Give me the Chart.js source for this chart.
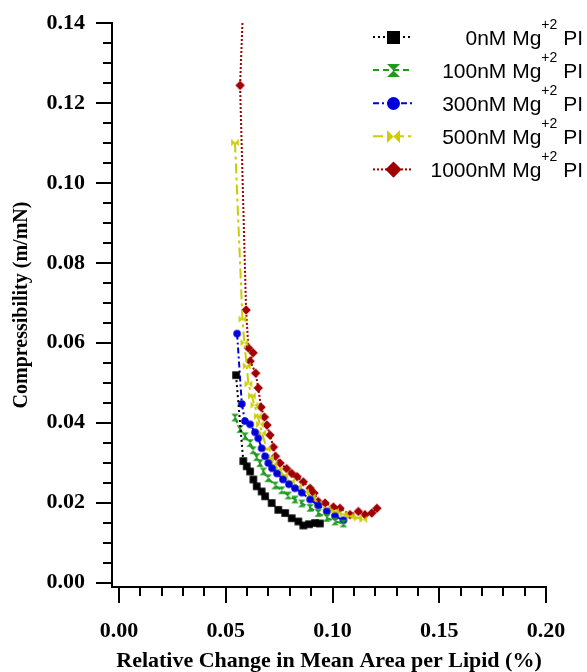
<!DOCTYPE html>
<html lang="en">
<head>
<meta charset="UTF-8">
<title>Compressibility vs Relative Change in Mean Area per Lipid</title>
<script src="https://cdn.jsdelivr.net/npm/chart.js@4.4.1/dist/chart.umd.min.js"></script>
<style>
  html, body { margin: 0; padding: 0; background: #ffffff; }
  #wrap { width: 587px; height: 672px; }
</style>
</head>
<body>
<div id="wrap"><canvas id="grafica" width="587" height="672"></canvas></div>
<script>
// ---- datos ----
const seriesNames = ['0nM', '100nM', '300nM', '500nM', '1000nM'];

const mg0X = [0.0548, 0.0582, 0.0598, 0.0614, 0.0629, 0.0645, 0.0668, 0.0684, 0.0715, 0.0746, 0.0778, 0.0809, 0.0840, 0.0863, 0.0890, 0.0918, 0.0941];
const mg0Y = [0.0519, 0.0304, 0.0291, 0.0278, 0.0258, 0.0241, 0.0228, 0.0216, 0.0199, 0.0182, 0.0174, 0.0161, 0.0153, 0.0143, 0.0146, 0.0149, 0.0148];

const mg100X = [0.0543, 0.0567, 0.0590, 0.0614, 0.0628, 0.0645, 0.0660, 0.0676, 0.0698, 0.0731, 0.0762, 0.0793, 0.0824, 0.0856, 0.0895, 0.0933, 0.0973, 0.1012, 0.1051];
const mg100Y = [0.0413, 0.0384, 0.0366, 0.0349, 0.0331, 0.0314, 0.0299, 0.0278, 0.0261, 0.0243, 0.0231, 0.0218, 0.0208, 0.0198, 0.0187, 0.0174, 0.0162, 0.0153, 0.0148];

const mg300X = [0.0553, 0.0575, 0.0590, 0.0614, 0.0637, 0.0652, 0.0668, 0.0684, 0.0699, 0.0717, 0.0740, 0.0768, 0.0796, 0.0824, 0.0856, 0.0895, 0.0933, 0.0973, 0.1012, 0.1051];
const mg300Y = [0.0623, 0.0447, 0.0404, 0.0396, 0.0376, 0.0361, 0.0336, 0.0316, 0.0299, 0.0286, 0.0273, 0.0258, 0.0246, 0.0236, 0.0225, 0.0208, 0.0193, 0.0178, 0.0166, 0.0156];

const mg500X = [0.0543, 0.0578, 0.0587, 0.0598, 0.0606, 0.0622, 0.0634, 0.0650, 0.0660, 0.0670, 0.0692, 0.0707, 0.0723, 0.0746, 0.0773, 0.0806, 0.0838, 0.0871, 0.0903, 0.0933, 0.0973, 0.1012, 0.1051, 0.1082, 0.1119, 0.1144];
const mg500Y = [0.1101, 0.0659, 0.0600, 0.0542, 0.0497, 0.0467, 0.0444, 0.0416, 0.0396, 0.0374, 0.0334, 0.0311, 0.0296, 0.0283, 0.0268, 0.0253, 0.0240, 0.0227, 0.0215, 0.0198, 0.0184, 0.0178, 0.0171, 0.0166, 0.0162, 0.0158];

const mg1000X = [0.0585, 0.0567, 0.0595, 0.0606, 0.0628, 0.0614, 0.0640, 0.0652, 0.0665, 0.0681, 0.0693, 0.0707, 0.0723, 0.0733, 0.0754, 0.0785, 0.0809, 0.0834, 0.0863, 0.0895, 0.0913, 0.0933, 0.0965, 0.1004, 0.1035, 0.1082, 0.1121, 0.1152, 0.1184, 0.1208];
const mg1000Y = [0.1500, 0.1244, 0.0682, 0.0587, 0.0575, 0.0554, 0.0524, 0.0487, 0.0439, 0.0414, 0.0394, 0.0369, 0.0339, 0.0316, 0.0299, 0.0285, 0.0273, 0.0265, 0.0252, 0.0236, 0.0224, 0.0203, 0.0199, 0.0189, 0.0186, 0.0170, 0.0178, 0.0170, 0.0174, 0.0186];

const xMajorTicks = [0.00, 0.05, 0.10, 0.15, 0.20];
const xMinorTicks = [0.00, 0.01, 0.02, 0.03, 0.04, 0.05, 0.06, 0.07, 0.08, 0.09, 0.10, 0.11, 0.12, 0.13, 0.14, 0.15, 0.16, 0.17, 0.18, 0.19, 0.20];
const yMajorTicks = [0.00, 0.02, 0.04, 0.06, 0.08, 0.10, 0.12, 0.14];
const yMinorTicks = [0.00, 0.005, 0.01, 0.015, 0.02, 0.025, 0.03, 0.035, 0.04, 0.045, 0.05, 0.055, 0.06, 0.065, 0.07, 0.075, 0.08, 0.085, 0.09, 0.095, 0.10, 0.105, 0.11, 0.115, 0.12, 0.125, 0.13, 0.135, 0.14];

// ---- estilos ----
const serifFont = '"Liberation Serif", "Times New Roman", serif';
const sansFont = '"Liberation Sans", Arial, sans-serif';

const estilos = [
  { color: '#000000', dash: [2, 3], marker: 'square' },
  { color: '#1f9a1f', dash: [6, 4], marker: 'hourglass' },
  { color: '#0000dd', dash: [6, 3, 2, 3], marker: 'circle' },
  { color: '#cccc00', dash: [10, 4, 3, 4], marker: 'bowtie' },
  { color: '#a00000', dash: [2, 2], marker: 'diamond' }
];

function pathMarker(ctx, kind, cx, cy, s) {
  ctx.beginPath();
  if (kind === 'square') {
    ctx.rect(cx - s, cy - s, 2 * s, 2 * s);
  } else if (kind === 'circle') {
    ctx.arc(cx, cy, s, 0, Math.PI * 2);
  } else if (kind === 'diamond') {
    const d = s * 1.25;
    ctx.moveTo(cx, cy - d); ctx.lineTo(cx + d, cy); ctx.lineTo(cx, cy + d); ctx.lineTo(cx - d, cy); ctx.closePath();
  } else if (kind === 'hourglass') {
    ctx.moveTo(cx - s, cy - s); ctx.lineTo(cx + s, cy - s); ctx.lineTo(cx, cy); ctx.closePath();
    ctx.moveTo(cx - s, cy + s); ctx.lineTo(cx + s, cy + s); ctx.lineTo(cx, cy); ctx.closePath();
  } else if (kind === 'bowtie') {
    ctx.moveTo(cx - s, cy - s); ctx.lineTo(cx, cy); ctx.lineTo(cx - s, cy + s); ctx.closePath();
    ctx.moveTo(cx + s, cy - s); ctx.lineTo(cx, cy); ctx.lineTo(cx + s, cy + s); ctx.closePath();
  }
}

function makeMarker(kind, color, half) {
  const c = document.createElement('canvas');
  const size = Math.ceil(half * 2.6) + 2;
  c.width = size; c.height = size;
  const ctx = c.getContext('2d');
  ctx.fillStyle = color;
  pathMarker(ctx, kind, size / 2, size / 2, half);
  ctx.fill();
  return c;
}

const pointMarkers = estilos.map(e => makeMarker(e.marker, e.color, 3.8));
const legendMarkers = estilos.map(e => makeMarker(e.marker, e.color, 6.5));

function toPoints(xs, ys) {
  return xs.map((x, i) => ({ x: x, y: ys[i] }));
}

const seriesX = [mg0X, mg100X, mg300X, mg500X, mg1000X];
const seriesY = [mg0Y, mg100Y, mg300Y, mg500Y, mg1000Y];

const datasets = seriesNames.map((name, i) => ({
  label: name + ' Mg+2 PI',
  data: toPoints(seriesX[i], seriesY[i]),
  showLine: true,
  borderColor: estilos[i].color,
  backgroundColor: estilos[i].color,
  borderWidth: 2,
  borderDash: estilos[i].dash,
  pointStyle: pointMarkers[i],
  pointRadius: 4,
  tension: 0,
  fill: false
}));

// marcas de los ejes (mayores largas, menores cortas)
const marcasPlugin = {
  id: 'marcas',
  afterDraw(chart) {
    const { ctx, chartArea, scales } = chart;
    ctx.save();
    ctx.strokeStyle = '#000';
    ctx.lineWidth = 2;
    xMinorTicks.forEach(v => {
      const px = Math.round(scales.x.getPixelForValue(v));
      const len = xMajorTicks.includes(v) ? 16 : 9;
      ctx.beginPath(); ctx.moveTo(px, chartArea.bottom); ctx.lineTo(px, chartArea.bottom + len); ctx.stroke();
    });
    yMinorTicks.forEach(v => {
      const py = Math.round(scales.y.getPixelForValue(v));
      const len = yMajorTicks.includes(v) ? 16 : 9;
      ctx.beginPath(); ctx.moveTo(chartArea.left, py); ctx.lineTo(chartArea.left - len, py); ctx.stroke();
    });
    ctx.restore();
  }
};

// leyenda con superindice
const leyendaPlugin = {
  id: 'leyenda',
  afterDraw(chart) {
    const ctx = chart.ctx;
    const right = 583;
    chart.data.datasets.forEach((ds, i) => {
      const y = 37 + i * 33.1;
      ctx.save();
      ctx.strokeStyle = ds.borderColor;
      ctx.lineWidth = 2;
      ctx.setLineDash(ds.borderDash);
      ctx.beginPath(); ctx.moveTo(373, y); ctx.lineTo(413, y); ctx.stroke();
      ctx.setLineDash([]);
      const m = legendMarkers[i];
      ctx.drawImage(m, Math.round(393 - m.width / 2), Math.round(y - m.height / 2));

      const main = seriesNames[i] + ' Mg';
      const sup = '+2';
      const tail = ' PI';
      ctx.fillStyle = '#000';
      ctx.textBaseline = 'alphabetic';
      ctx.font = '21px ' + sansFont;
      const wMain = ctx.measureText(main).width;
      const wTail = ctx.measureText(tail).width;
      ctx.font = '14px ' + sansFont;
      const wSup = ctx.measureText(sup).width;
      let x = right - wMain - wSup - wTail;
      const base = y + 7.5;
      ctx.font = '21px ' + sansFont;
      ctx.fillText(main, x, base);
      x += wMain;
      ctx.font = '14px ' + sansFont;
      ctx.fillText(sup, x, base - 16);
      x += wSup;
      ctx.font = '21px ' + sansFont;
      ctx.fillText(tail, x, base);
      ctx.restore();
    });
  }
};

function sinRelleno(scale) {
  scale.paddingTop = 0;
  scale.paddingBottom = 0;
  scale.paddingLeft = 0;
  scale.paddingRight = 0;
}

new Chart(document.getElementById('grafica'), {
  type: 'scatter',
  data: { datasets: datasets },
  options: {
    responsive: false,
    animation: false,
    devicePixelRatio: 1,
    layout: { padding: { top: 23, right: 41, left: 0, bottom: 0 } },
    plugins: {
      legend: { display: false },
      tooltip: { enabled: false }
    },
    scales: {
      x: {
        type: 'linear',
        min: -0.0033,
        max: 0.20,
        afterBuildTicks: axis => { axis.ticks = xMajorTicks.map(v => ({ value: v })); },
        afterFit: scale => { scale.height = 85; sinRelleno(scale); },
        grid: { display: false, drawTicks: false },
        border: { display: true, color: '#000', width: 2 },
        ticks: {
          autoSkip: false,
          maxRotation: 0,
          padding: 31,
          color: '#000',
          font: { family: serifFont, size: 22, weight: 'bold' },
          callback: v => v.toFixed(2)
        },
        title: {
          display: true,
          text: 'Relative Change in Mean Area per Lipid (%)',
          color: '#000',
          padding: { top: 0, bottom: 0 },
          font: { family: serifFont, size: 22, weight: 'bold', lineHeight: 1 }
        }
      },
      y: {
        type: 'linear',
        min: -0.0011,
        max: 0.14,
        afterBuildTicks: axis => { axis.ticks = yMajorTicks.map(v => ({ value: v })); },
        afterFit: scale => { scale.width = 112; sinRelleno(scale); },
        grid: { display: false, drawTicks: false },
        border: { display: true, color: '#000', width: 2 },
        ticks: {
          autoSkip: false,
          padding: 27,
          color: '#000',
          font: { family: serifFont, size: 22, weight: 'bold' },
          callback: v => v.toFixed(2)
        },
        title: {
          display: true,
          text: 'Compressibility (m/mN)',
          color: '#000',
          padding: { top: 10, bottom: 0 },
          font: { family: serifFont, size: 20, weight: 'bold' }
        }
      }
    }
  },
  plugins: [marcasPlugin, leyendaPlugin]
});
</script>
</body>
</html>
